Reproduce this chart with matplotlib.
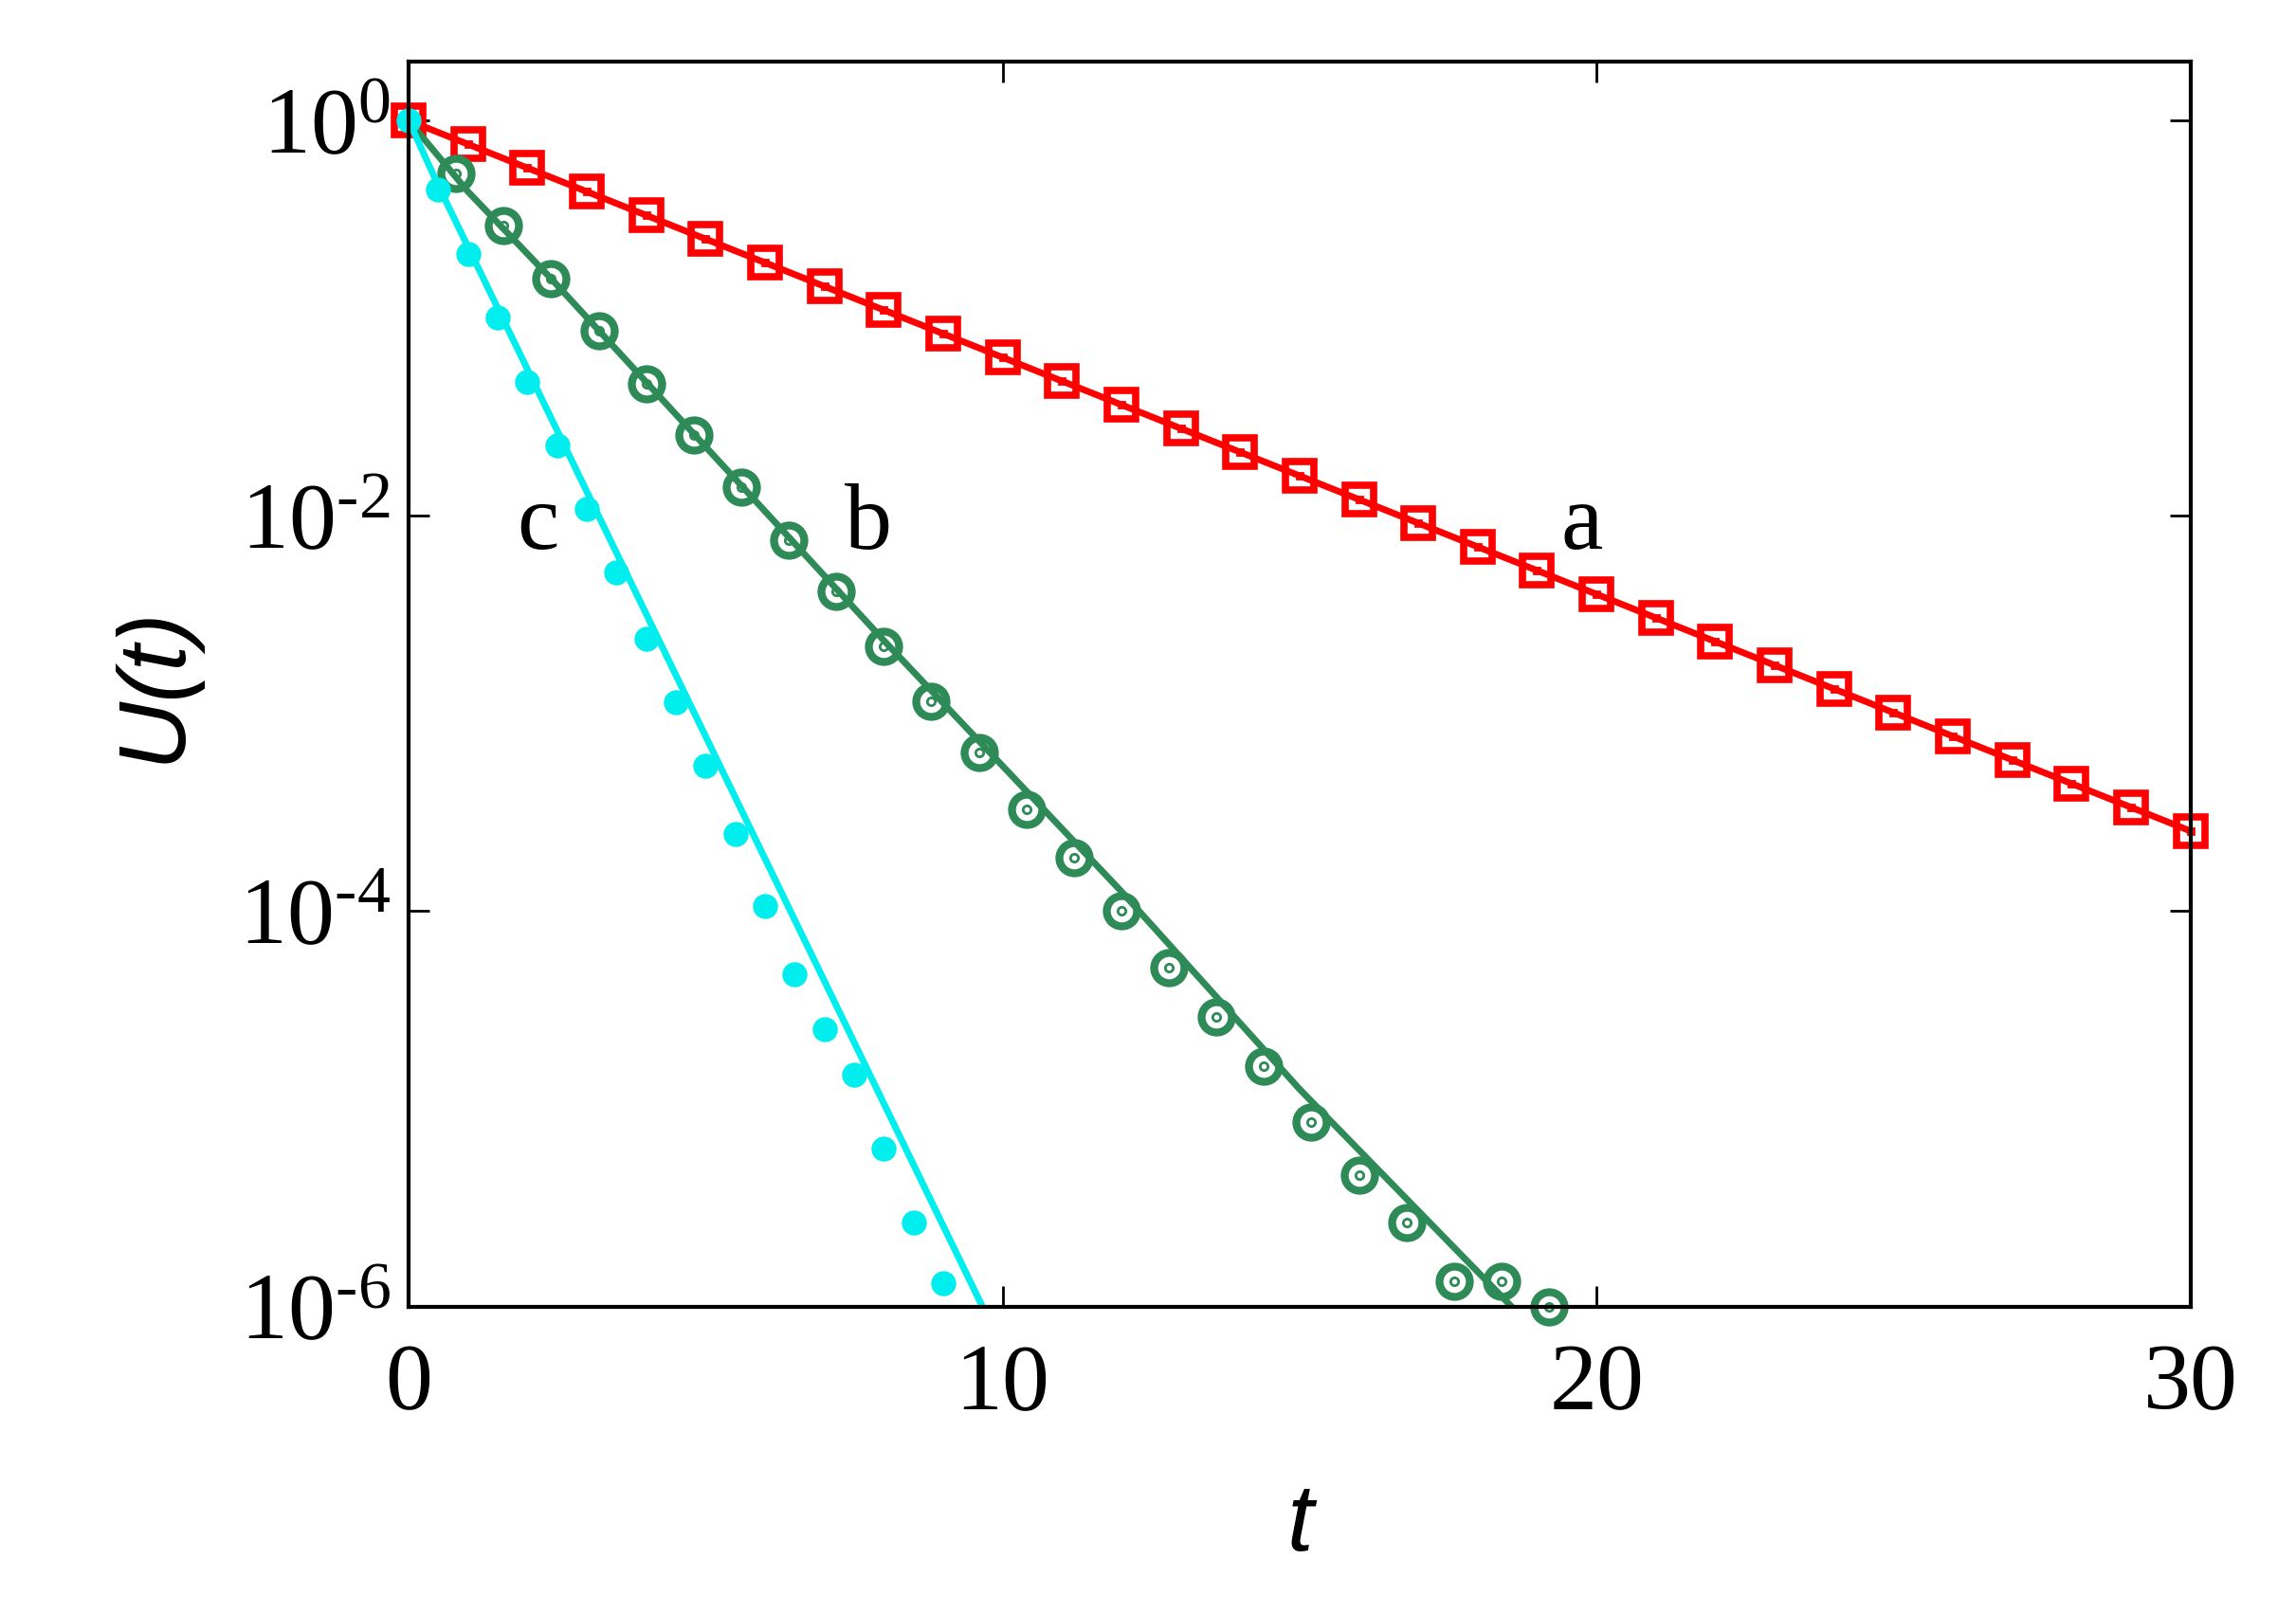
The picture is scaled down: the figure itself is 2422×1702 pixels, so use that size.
import numpy as np
import matplotlib
matplotlib.use("Agg")
import matplotlib.pyplot as plt

plt.rcParams['font.family'] = 'Liberation Serif'
plt.rcParams['mathtext.fontset'] = 'custom'
plt.rcParams['mathtext.rm'] = 'Liberation Serif'
plt.rcParams['mathtext.it'] = 'Liberation Serif:italic'

# data (log10 U)
t_a = np.arange(0, 31)
logU_a = -0.1198 * t_a

t_b = np.round(np.arange(0, 24) * 0.8 + 0.8, 2)
logU_b = [-0.269, -0.531, -0.80, -1.061, -1.330, -1.592, -1.853, -2.123, -2.384, -2.661,
          -2.937, -3.199, -3.483, -3.729, -3.999, -4.283, -4.537, -4.783, -5.067,
          -5.336, -5.575, -5.874, -5.874, -6.0]
tl_b = [0, 1, 2.4, 5, 8, 12, 15, 18.57]
logl_b = [0, -0.36, -0.8, -1.65, -2.63, -3.9, -4.9, -6.0]

t_c = np.arange(0, 19) * 0.5
logU_c = [0, -0.351, -0.673, -0.994, -1.323, -1.644, -1.966, -2.287, -2.623, -2.945,
          -3.266, -3.610, -3.976, -4.320, -4.596, -4.828, -5.202, -5.575, -5.882]
tl_c = [0, 0.5, 9.66]
logl_c = [0, -0.33, -6.0]

red, green, cyan = '#ff0000', '#2e8b57', '#00eeee'

fig = plt.figure(figsize=(24.22, 17.02), dpi=100)
ax = fig.add_axes([0.178, 0.19, 0.776, 0.772])

ax.plot(t_a, 10**logU_a, color=red, lw=5)
ax.plot(t_a, 10**logU_a, 's', ms=22, mfc='none', mec=red, mew=5.5, clip_on=False)
ax.plot(t_a, 10**logU_a, 's', ms=5, mfc='none', mec=red, mew=2, clip_on=False)

ax.plot(tl_b, 10**np.array(logl_b), color=green, lw=5)
ax.plot(t_b, 10**np.array(logU_b), 'o', ms=23, mfc='none', mec=green, mew=6, clip_on=False)
ax.plot(t_b, 10**np.array(logU_b), 'o', ms=6, mfc='none', mec=green, mew=2, clip_on=False)

ax.plot(tl_c, 10**np.array(logl_c), color=cyan, lw=5)
ax.plot(t_c, 10**np.array(logU_c), 'o', ms=18, color=cyan, clip_on=False)

ax.set_yscale('log')
ax.set_xlim(0, 30)
ax.set_ylim(1e-6, 10**0.3)
ax.set_xticks([0, 10, 20, 30])
ax.set_yticks([1e0, 1e-2, 1e-4, 1e-6])
ax.set_yticklabels(['$10^{0}$', '$10^{\u20102}$', '$10^{\u20104}$', '$10^{\u20106}$'])
ax.minorticks_off()
ax.tick_params(direction='in', length=16, width=2, top=True, right=True, labelsize=72)
ax.tick_params(axis='x', pad=28)
ax.tick_params(axis='y', pad=14)
for s in ax.spines.values():
    s.set_linewidth(3)

ax.set_xlabel('t', fontsize=72, family='Liberation Sans', style='italic', labelpad=40)
ax.set_ylabel('U(t)', fontsize=72, family='Liberation Sans', style='italic', labelpad=30)

ax.text(19.76, 10**-2.05, 'a', fontsize=72, ha='center', va='center')
ax.text(7.74, 10**-2.05, 'b', fontsize=72, ha='center', va='center')
ax.text(2.17, 10**-2.05, 'c', fontsize=72, ha='center', va='center')

fig.savefig('out.png', dpi=100)
